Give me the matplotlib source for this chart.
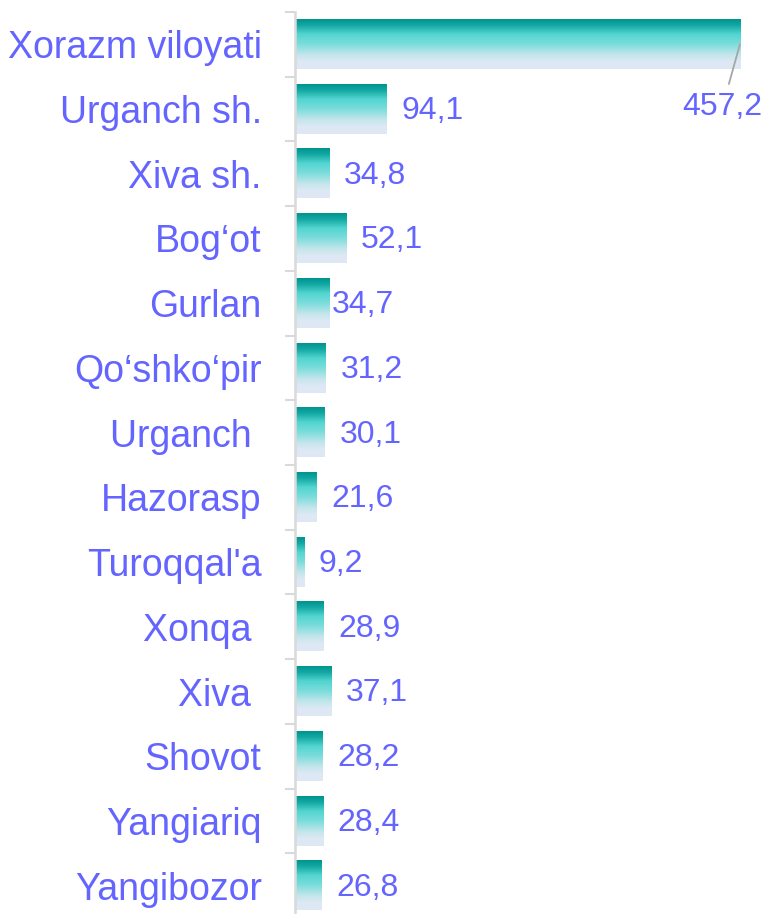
import numpy as np
import matplotlib
matplotlib.use("Agg")
import matplotlib.pyplot as plt
from matplotlib.colors import LinearSegmentedColormap

plt.rcParams['font.family'] = ['Liberation Sans', 'DejaVu Sans']

regions = ["Xorazm viloyati", "Urganch sh.", "Xiva sh.", "Bog\u2018ot", "Gurlan",
           "Qo\u2018shko\u2018pir", "Urganch ", "Hazorasp", "Turoqqal'a", "Xonqa ",
           "Xiva ", "Shovot", "Yangiariq", "Yangibozor"]
values = [457.2, 94.1, 34.8, 52.1, 34.7, 31.2, 30.1, 21.6, 9.2, 28.9, 37.1, 28.2, 28.4, 26.8]

label_color = '#6464FF'
grad = LinearSegmentedColormap.from_list('bar', [
    (0.0, '#00948F'), (0.12, '#13A8A3'), (0.3, '#52D5D0'), (0.5, '#7CDDDB'),
    (0.72, '#C4E6EC'), (0.85, '#DDE8F4'), (1.0, '#DFE9F5')])

fig = plt.figure(figsize=(7.66, 9.14), dpi=100)
ax = fig.add_axes([295 / 766, -4 / 914, 471 / 766, 906 / 914])

n = len(regions)
y = np.arange(n)
h = 0.76
g = np.linspace(0, 1, 200).reshape(-1, 1)

for yi, v in zip(y, values):
    ax.imshow(g, cmap=grad, aspect='auto', interpolation='bilinear',
              extent=(0.6, v, yi + h / 2, yi - h / 2), zorder=2)

ax.set_xlim(0, 484)
ax.set_ylim(n - 0.5, -0.5)

# value labels
for i, v in enumerate(values):
    txt = f"{v:.1f}".replace('.', ',')
    if i == 0:
        ax.annotate(txt, xy=(v, 0.0), xytext=(v - 18, 0.97), textcoords='data',
                    ha='center', va='center', fontsize=23, color=label_color,
                    arrowprops=dict(arrowstyle='-', color='#A6A6A6', lw=1.3,
                                    shrinkA=4, shrinkB=0))
    else:
        off = 3 if regions[i] == "Gurlan" else 15
        ax.annotate(txt, xy=(v, i + 0.03), xytext=(off * 0.72, 0), textcoords='offset points',
                    ha='left', va='center', fontsize=23, color=label_color)

ax.set_yticks(y)
ax.set_yticklabels(regions, fontsize=27, color=label_color)
ax.set_yticks(np.arange(n + 1) - 0.5, minor=True)
ax.tick_params(axis='y', which='major', length=0, pad=24)
ax.tick_params(axis='y', which='minor', length=7, width=1.5, color='#D9D9D9')
ax.set_xticks([])

for s in ['top', 'right', 'bottom']:
    ax.spines[s].set_visible(False)
ax.spines['left'].set_color('#D9D9D9')
ax.spines['left'].set_linewidth(1.8)

fig.savefig('out.png', dpi=100)
